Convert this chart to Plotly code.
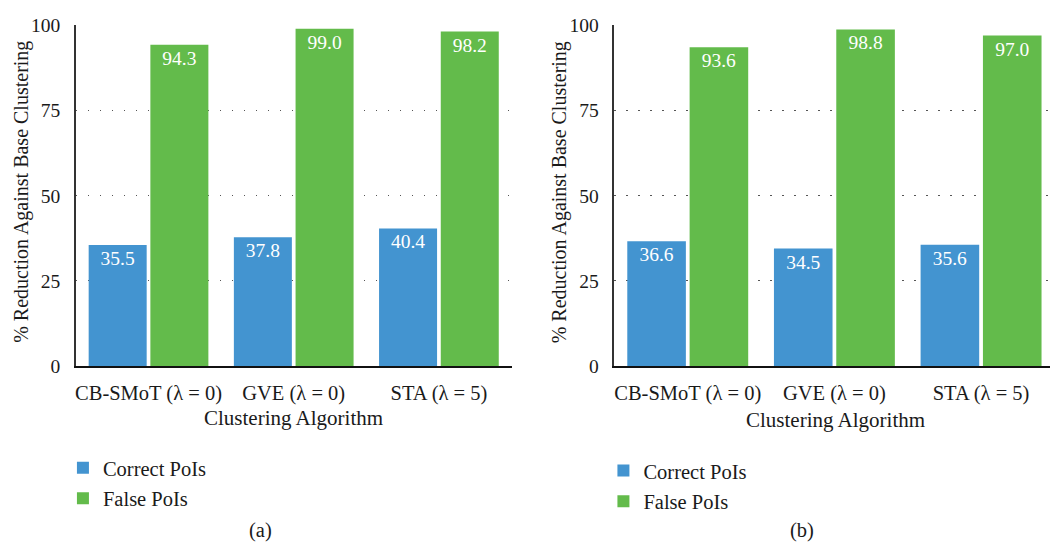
import plotly.graph_objects as go

# Clustering algorithms compared in both panels
categories = ["CB-SMoT (λ = 0)", "GVE (λ = 0)", "STA (λ = 5)"]

# Panel (a): % reduction against base clustering
correct_a = [35.5, 37.8, 40.4]
false_a = [94.3, 99.0, 98.2]

# Panel (b): % reduction against base clustering
correct_b = [36.6, 34.5, 35.6]
false_b = [93.6, 98.8, 97.0]

y_ticks = [0, 25, 50, 75, 100]

BLUE = "#4394D0"
GREEN = "#63BB4B"
FONT = "Liberation Serif"
TEXT = "#1a1a1a"
W, H = 1050, 556

fig = go.Figure()


def add_pair(correct, false, xa, ya, legend):
    for name, vals, color in (("Correct PoIs", correct, BLUE), ("False PoIs", false, GREEN)):
        fig.add_trace(go.Bar(
            x=categories, y=vals, name=name, marker_color=color,
            marker_line_width=0,
            texttemplate="%{y:.1f}", textposition="inside",
            insidetextanchor="end", textangle=0,
            textfont=dict(family=FONT, size=19.5, color="white"),
            xaxis=xa, yaxis=ya, legend=legend, legendgroup=name + legend,
            cliponaxis=False,
        ))


add_pair(correct_a, false_a, "x", "y", "legend")
add_pair(correct_b, false_b, "x2", "y2", "legend2")

y_bottom = 1 - 370 / H
y_top = 1 - 16 / H

yaxis_common = dict(
    range=[0, 100], tickvals=y_ticks, showgrid=True,
    gridcolor="#555555", griddash="1.5px,10.5px", gridwidth=1.3,
    showline=True, linecolor="#333333", linewidth=1.5,
    ticks="", ticklabelstandoff=10, zeroline=False,
    tickfont=dict(family=FONT, size=19.5, color=TEXT),
    domain=[y_bottom, y_top],
)
xaxis_common = dict(
    showline=True, linecolor="#111111", linewidth=1.5,
    ticks="", ticklabelstandoff=8, showgrid=False,
    tickfont=dict(family=FONT, size=20.5, color=TEXT),
)

legend_common = dict(
    font=dict(family=FONT, size=20.5, color=TEXT),
    bgcolor="rgba(0,0,0,0)", xanchor="left", yanchor="top",
    tracegroupgap=1, itemwidth=30,
)

fig.update_layout(
    width=W, height=H,
    margin=dict(l=0, r=0, t=0, b=0),
    paper_bgcolor="white", plot_bgcolor="white",
    barmode="group", bargap=0.15, bargroupgap=0.06,
    xaxis=dict(domain=[75 / W, 511 / W], range=[-0.5, 2.5], anchor="y", **xaxis_common),
    yaxis=dict(anchor="x", **yaxis_common),
    xaxis2=dict(domain=[614 / W, 1.0], range=[-0.5, 2.47], anchor="y2", **xaxis_common),
    yaxis2=dict(anchor="x2", **yaxis_common),
    legend=dict(x=62 / W, y=1 - 455 / H, **legend_common),
    legend2=dict(x=603 / W, y=1 - 458 / H, **legend_common),
    showlegend=True,
)

annotations = [
    dict(text="Clustering Algorithm", x=293 / W, y=1 - 424 / H, size=21),
    dict(text="Clustering Algorithm", x=835 / W, y=1 - 426 / H, size=21),
    dict(text="% Reduction Against Base Clustering", x=21 / W, y=1 - 189 / H, textangle=-90, size=20),
    dict(text="% Reduction Against Base Clustering", x=559 / W, y=1 - 189 / H, textangle=-90, size=20),
    dict(text="(a)", x=260 / W, y=1 - 541 / H, size=20.5),
    dict(text="(b)", x=802 / W, y=1 - 541 / H, size=20.5),
]
for a in annotations:
    size = a.pop("size")
    fig.add_annotation(xref="paper", yref="paper", showarrow=False,
                       xanchor="center", yanchor="middle",
                       font=dict(family=FONT, size=size, color=TEXT), **a)

fig.write_html("out.html")
